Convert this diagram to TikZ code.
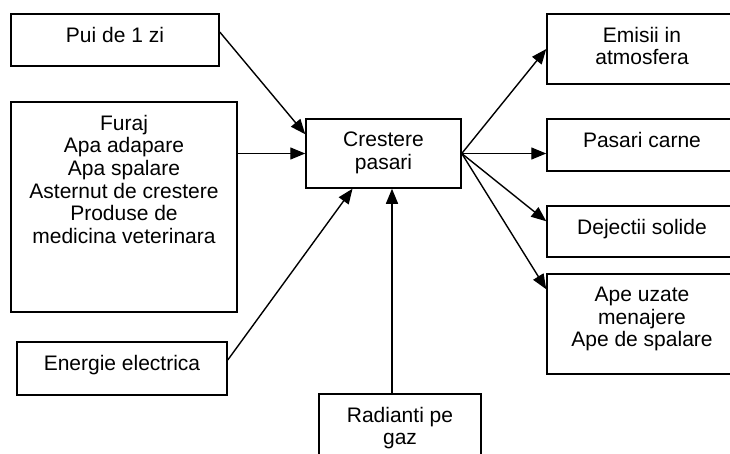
\documentclass[tikz,border=0pt]{standalone}
\usepackage{fontspec}
\setmainfont{Liberation Sans}
\usetikzlibrary{arrows.meta}
\begin{document}
\begin{tikzpicture}[x=1pt,y=-1pt,
  box/.style={draw=black, line width=1.5pt, fill=white, inner sep=0pt},
  txt/.style={anchor=north, inner sep=0pt, align=center, font=\fontsize{21}{22.7}\selectfont},
  arr/.style={line width=1.4pt, -{Triangle[length=15pt,width=12pt]}}]
\clip (0,0) rectangle (730,453);
\fill[white] (0,0) rectangle (730,453);
% boxes
\node[box, minimum width=208pt, minimum height=52pt] (pui) at (115,40) {};
\node[box, minimum width=226pt, minimum height=210pt] (furaj) at (124,207) {};
\node[box, minimum width=155pt, minimum height=69pt] (crestere) at (383.5,153.5) {};
\node[box, minimum width=190pt, minimum height=70pt] (emisii) at (642,49) {};
\node[box, minimum width=190pt, minimum height=52pt] (pasari) at (642,145) {};
\node[box, minimum width=190pt, minimum height=51pt] (dejectii) at (642,231.5) {};
\node[box, minimum width=190pt, minimum height=100pt] (apeuzate) at (642,324) {};
\node[box, minimum width=210pt, minimum height=53pt] (energie) at (122,368.5) {};
\node[box, minimum width=162pt, minimum height=80pt] (radianti) at (400,434) {};
% texts
\node[txt] (puit) at ([yshift=-13.5pt]pui.north) {Pui de 1 zi};
\node[txt] (furajt) at ([yshift=-13.5pt]furaj.north) {Furaj\\Apa adapare\\Apa spalare\\Asternut de crestere\\Produse de\\medicina veterinara};
\node[txt] (cresteret) at ([yshift=-13.5pt]crestere.north) {Crestere\\pasari};
\node[txt] (emisiit) at ([yshift=-13.5pt]emisii.north) {Emisii in\\atmosfera};
\node[txt] (pasarit) at ([yshift=-13.5pt]pasari.north) {Pasari carne};
\node[txt] (dejectiit) at ([yshift=-13.5pt]dejectii.north) {Dejectii solide};
\node[txt] (apeuzatet) at ([yshift=-13.5pt]apeuzate.north) {Ape uzate\\menajere\\Ape de spalare};
\node[txt] (energiet) at ([yshift=-13.5pt]energie.north) {Energie electrica};
\node[txt] (radiantit) at ([yshift=-13.5pt]radianti.north) {Radianti pe\\gaz};
% connectors
\draw[arr] ([yshift=8pt]pui.east) -- ([yshift=-16pt]crestere.north west);
\draw[arr] (furaj.east |- crestere.west) -- (crestere.west);
\draw[arr] ([yshift=8.5pt]energie.east) -- ([xshift=-31pt]crestere.south);
\draw[arr] ([xshift=-8pt]radianti.north) -- ([xshift=-8pt]radianti.north |- crestere.south);
\draw[arr] (crestere.east) -- (emisii.west);
\draw[arr] (crestere.east) -- (pasari.west |- crestere.east);
\draw[arr] (crestere.east) -- ([yshift=-16pt]dejectii.north west);
\draw[arr] (crestere.east) -- ([yshift=-16pt]apeuzate.north west);
\end{tikzpicture}
\end{document}
